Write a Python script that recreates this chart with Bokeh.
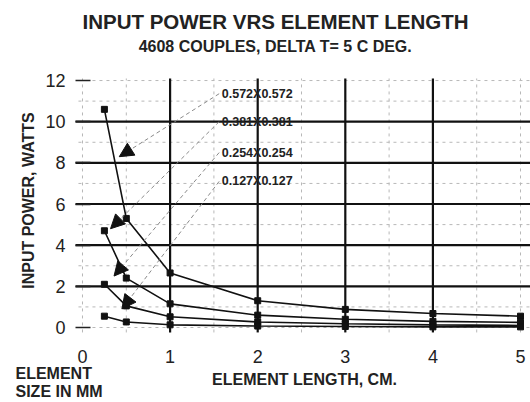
from bokeh.plotting import figure
from bokeh.models import FixedTicker, Label, ColumnDataSource, Range1d, Arrow, NormalHead
from bokeh.core.properties import value
from bokeh.embed import file_html
from bokeh.resources import INLINE

# ---- data ----
lengths_cm = [0.25, 0.5, 1, 2, 3, 4, 5]
p_0572 = [10.6, 5.3, 2.65, 1.3, 0.88, 0.68, 0.55]
p_0381 = [4.7, 2.4, 1.15, 0.6, 0.4, 0.3, 0.25]
p_0254 = [2.1, 1.05, 0.52, 0.27, 0.18, 0.13, 0.1]
p_0127 = [0.55, 0.27, 0.13, 0.07, 0.05, 0.03, 0.03]

size_labels = ["0.572X0.572", "0.381X0.381", "0.254X0.254", "0.127X0.127"]
label_x = [1.59, 1.59, 1.59, 1.59]
label_y = [11.36, 10.0, 8.5, 7.1]
arrow_x = [0.42, 0.32, 0.36, 0.45]
arrow_y = [8.3, 4.8, 2.5, 0.9]

x_ticks = [0, 1, 2, 3, 4, 5]
y_ticks = [0, 2, 4, 6, 8, 10, 12]
x_major_grid = [1, 2, 3, 4]
y_major_grid = [2, 4, 6, 8, 10]
x_minor_grid = [0, 0.5, 1.5, 2.5, 3.5, 4.5, 5]
y_minor_grid = [0, 1, 3, 5, 7, 9, 11, 12]

# plotting-area limits (data units)
X_LO, X_HI = -0.046, 5.114
Y_LO, Y_HI = -0.24, 12.1

FONT = "Liberation Sans"
W, H = 530, 400

# the frame covers the whole canvas so that free texts are not clipped
p = figure(width=W, height=H, output_backend="svg", toolbar_location=None,
           x_range=Range1d(-0.936, 5.114), y_range=Range1d(-3.547, 15.889),
           min_border_left=0, min_border_right=0, min_border_top=0, min_border_bottom=0)
p.outline_line_color = None
p.background_fill_color = "white"
p.xgrid.visible = False
p.ygrid.visible = False

# grid lines
n = len(x_minor_grid)
p.segment(x0=x_minor_grid, y0=[Y_LO] * n, x1=x_minor_grid, y1=[Y_HI] * n,
          line_color="#b8b8b8", line_dash="3 4", line_width=1)
n = len(y_minor_grid)
p.segment(x0=[X_LO] * n, y0=y_minor_grid, x1=[X_HI] * n, y1=y_minor_grid,
          line_color="#b8b8b8", line_dash="3 4", line_width=1)
n = len(x_major_grid)
p.segment(x0=x_major_grid, y0=[Y_LO] * n, x1=x_major_grid, y1=[Y_HI] * n,
          line_color="#111111", line_width=2.2)
n = len(y_major_grid)
p.segment(x0=[-0.08] * n, y0=y_major_grid, x1=[X_HI] * n, y1=y_major_grid,
          line_color="#111111", line_width=2.2)

# axes, fixed at the plotting-area edges
p.xaxis.ticker = FixedTicker(ticks=x_ticks)
p.yaxis.ticker = FixedTicker(ticks=y_ticks)
p.xaxis.fixed_location = Y_LO
p.yaxis.fixed_location = X_LO
for ax in (p.xaxis[0], p.yaxis[0]):
    ax.axis_line_color = None
    ax.major_label_text_font = FONT
    ax.major_label_text_font_size = "18px"
    ax.major_label_text_color = "#222222"
    ax.minor_tick_line_color = None
p.xaxis.major_tick_line_color = None
p.xaxis.major_label_standoff = 12
p.yaxis.major_tick_in = 12
p.yaxis.major_tick_out = 3
p.yaxis.major_tick_line_color = "#222222"
p.yaxis.major_tick_line_width = 1.5
p.yaxis.major_label_standoff = 10
p.yaxis.axis_label = "INPUT POWER, WATTS"
p.yaxis.axis_label_text_font = FONT
p.yaxis.axis_label_text_font_style = "bold"
p.yaxis.axis_label_text_font_size = "16px"
p.yaxis.axis_label_text_color = "#222222"
p.yaxis.axis_label_standoff = 5

# curves
for ys in (p_0572, p_0381, p_0254, p_0127):
    p.line(lengths_cm, ys, line_color="#111111", line_width=1.6)
    p.scatter(lengths_cm, ys, marker="square", size=6, color="#111111")

# leader lines with arrow heads
for lx, ly, ax_, ay in zip(label_x, label_y, arrow_x, arrow_y):
    p.add_layout(Arrow(x_start=lx - 0.03, y_start=ly, x_end=ax_, y_end=ay,
                       line_color="#8a8a8a", line_dash="4 3", line_width=1,
                       end=NormalHead(size=14, fill_color="#111111", line_color="#111111")))

# size labels
src = ColumnDataSource(dict(x=label_x, y=label_y, t=size_labels))
p.text("x", "y", text="t", source=src, text_font=value(FONT), text_font_style="bold",
       text_font_size="12.5px", text_baseline="middle", text_color="#222222")

# titles and other text (screen units, origin at bottom-left of the canvas)
def page_label(text, px, py, size, align="center"):
    p.add_layout(Label(x=px, y=H - py, x_units="screen", y_units="screen",
                       text=text, text_font=FONT, text_font_style="bold",
                       text_font_size=size, text_align=align, text_baseline="middle",
                       text_color="#222222"))

page_label("INPUT POWER VRS ELEMENT LENGTH", 275, 21, "20.5px")
page_label("4608 COUPLES, DELTA T= 5 C DEG.", 275, 46, "16px")
page_label("ELEMENT LENGTH, CM.", 304, 379, "16px")
page_label("ELEMENT", 15, 373, "16px", align="left")
page_label("SIZE IN MM", 15, 391, "16px", align="left")

open("out.html", "w").write(file_html(p, INLINE))
